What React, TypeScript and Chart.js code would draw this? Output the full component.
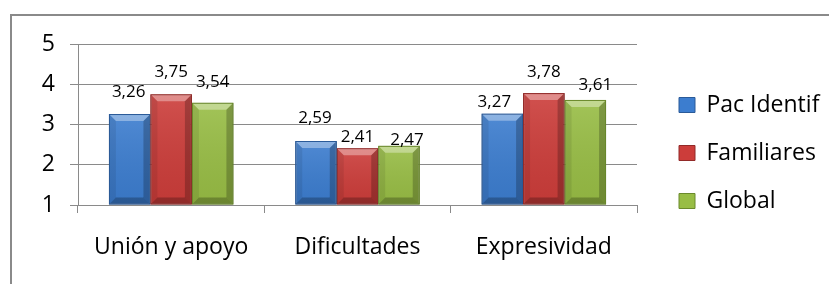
import React, { useEffect, useRef } from "react";
import { Chart, registerables } from "chart.js";

Chart.register(...registerables);

// ---- data ----
const categories = ["Unión y apoyo", "Dificultades", "Expresividad"];
const seriesNames = ["Pac Identif", "Familiares", "Global"];
const pacIdentif = [3.26, 2.59, 3.27];
const familiares = [3.75, 2.41, 3.78];
const globalValues = [3.54, 2.47, 3.61];
const yMin = 1;
const yMax = 5;
const yStep = 1;

// ---- label nudges (px, style only) ----
const labelLift = [
  [17, 18, 7],
  [17, 6, 16],
  [16, 1, 10],
];
const labelShift = [
  [-1, -1, -8],
  [0, 0, 0],
  [0, 8, 10],
];

const FONT = '"Open Sans", sans-serif';
const faceColors = ["#3c7dcf", "#cc3d3a", "#98bd45"];
const edgeColors = ["#2a5a98", "#922a28", "#6b8a2c"];
const GRID = "#8a8a8a";
const LEGEND_FONT = 23;
const LEGEND_BOX_W = 16;
const LEGEND_PAD = 25;

const fmt = (v: number) => v.toFixed(2).replace(".", ",");

function poly(ctx: CanvasRenderingContext2D, pts: number[][], fill: string | CanvasGradient) {
  ctx.beginPath();
  ctx.moveTo(pts[0][0], pts[0][1]);
  for (let i = 1; i < pts.length; i++) ctx.lineTo(pts[i][0], pts[i][1]);
  ctx.closePath();
  ctx.fillStyle = fill;
  ctx.fill();
}

const bevelPlugin = {
  id: "bevelBars",
  afterDatasetsDraw(chart: any) {
    const ctx: CanvasRenderingContext2D = chart.ctx;
    chart.data.datasets.forEach((_ds: any, di: number) => {
      const meta = chart.getDatasetMeta(di);
      meta.data.forEach((el: any) => {
        const { x, y, base, width } = el.getProps(["x", "y", "base", "width"], true);
        const l = x - width / 2;
        const r = x + width / 2;
        const t = Math.min(y, base);
        const b = Math.max(y, base);
        const h = b - t;
        const bv = Math.min(7, h / 3, width / 4);
        ctx.save();
        const g = ctx.createLinearGradient(0, t, 0, b);
        g.addColorStop(0, "rgba(255,255,255,0.10)");
        g.addColorStop(1, "rgba(0,0,0,0.06)");
        poly(ctx, [[l, t], [r, t], [r, b], [l, b]], g);
        poly(ctx, [[l, t], [r, t], [r - bv, t + bv], [l + bv, t + bv]], "rgba(255,255,255,0.35)");
        poly(ctx, [[l, t], [l + bv, t + bv], [l + bv, b - bv], [l, b]], "rgba(0,0,0,0.08)");
        poly(ctx, [[r, t], [r - bv, t + bv], [r - bv, b - bv], [r, b]], "rgba(0,0,0,0.22)");
        poly(ctx, [[l, b], [r, b], [r - bv, b - bv], [l + bv, b - bv]], "rgba(0,0,0,0.25)");
        ctx.strokeStyle = edgeColors[di];
        ctx.lineWidth = 1;
        ctx.strokeRect(l + 0.5, t + 0.5, width - 1, h - 1);
        ctx.restore();
      });
    });
  },
};

const labelPlugin = {
  id: "valueLabels",
  afterDatasetsDraw(chart: any) {
    const ctx: CanvasRenderingContext2D = chart.ctx;
    ctx.save();
    ctx.font = `17px ${FONT}`;
    ctx.fillStyle = "#000";
    ctx.textAlign = "center";
    ctx.textBaseline = "alphabetic";
    chart.data.datasets.forEach((ds: any, di: number) => {
      const meta = chart.getDatasetMeta(di);
      meta.data.forEach((el: any, i: number) => {
        const { x, y } = el.getProps(["x", "y"], true);
        ctx.fillText(fmt(ds.data[i]), x + labelShift[di][i], y - labelLift[di][i]);
      });
    });
    ctx.restore();
  },
};

export default function App() {
  const ref = useRef<HTMLCanvasElement>(null);

  useEffect(() => {
    const canvas = ref.current;
    if (!canvas) return;
    const seriesData = [pacIdentif, familiares, globalValues];

    // natural legend width, so that the legend's left edge lands where wanted
    const mctx = document.createElement("canvas").getContext("2d")!;
    mctx.font = `${LEGEND_FONT}px ${FONT}`;
    const maxText = Math.max(...seriesNames.map((s) => mctx.measureText(s).width));
    const legendW = LEGEND_PAD + LEGEND_BOX_W + LEGEND_FONT / 2 + maxText + 10;
    const legendLeft = 654;
    const padRight = 829 - legendLeft - legendW;

    const chart = new Chart(canvas, {
      type: "bar",
      data: {
        labels: categories,
        datasets: seriesNames.map((name, i) => ({
          label: name,
          data: seriesData[i],
          base: yMin,
          backgroundColor: faceColors[i],
          borderColor: edgeColors[i],
          borderWidth: 1,
          borderSkipped: false,
          categoryPercentage: 0.668,
          barPercentage: 1,
          yAxisID: "y",
        })),
      },
      options: {
        responsive: false,
        animation: false,
        layout: { padding: { top: 44, bottom: 22, left: 0, right: padRight } },
        scales: {
          x: {
            offset: true,
            grid: {
              display: true,
              drawOnChartArea: false,
              drawTicks: true,
              tickLength: 8,
              color: GRID,
              offset: true,
            },
            border: { display: true, color: GRID, width: 1 },
            ticks: {
              color: "#000",
              font: { family: FONT, size: 23 },
              padding: 21,
              maxRotation: 0,
              autoSkip: false,
            },
            afterFit: (s: any) => {
              s.height = 57;
            },
          },
          y: {
            min: yMin,
            max: yMax,
            position: "left",
            grid: { color: GRID, tickLength: 8, drawTicks: true },
            border: { display: true, color: GRID, width: 1 },
            ticks: {
              stepSize: yStep,
              color: "#000",
              font: { family: FONT, size: 23 },
              padding: 15,
            },
            afterFit: (s: any) => {
              s.width = 78;
            },
          },
          gap: {
            type: "linear",
            position: "right",
            display: true,
            grid: { display: false, drawOnChartArea: false },
            border: { display: false },
            ticks: { display: false },
            afterFit: (s: any) => {
              s.width = 17;
            },
          },
        },
        plugins: {
          tooltip: { enabled: false },
          legend: {
            position: "right",
            align: "center",
            maxWidth: 400,
            labels: {
              color: "#000",
              font: { family: FONT, size: LEGEND_FONT },
              boxWidth: LEGEND_BOX_W,
              boxHeight: 15,
              padding: LEGEND_PAD,
            },
          },
        },
      } as any,
      plugins: [bevelPlugin, labelPlugin],
    });
    return () => chart.destroy();
  }, []);

  return (
    <div
      style={{
        position: "fixed",
        left: 0,
        top: 0,
        width: 829,
        height: 284,
        overflow: "hidden",
        background: "#fff",
      }}
    >
      <div
        style={{
          position: "absolute",
          left: 10,
          top: 14,
          width: 900,
          height: 400,
          border: `2px solid ${GRID}`,
          boxSizing: "border-box",
        }}
      />
      <canvas
        ref={ref}
        width={829}
        height={284}
        style={{ position: "absolute", left: 0, top: 0, width: 829, height: 284 }}
      />
    </div>
  );
}
